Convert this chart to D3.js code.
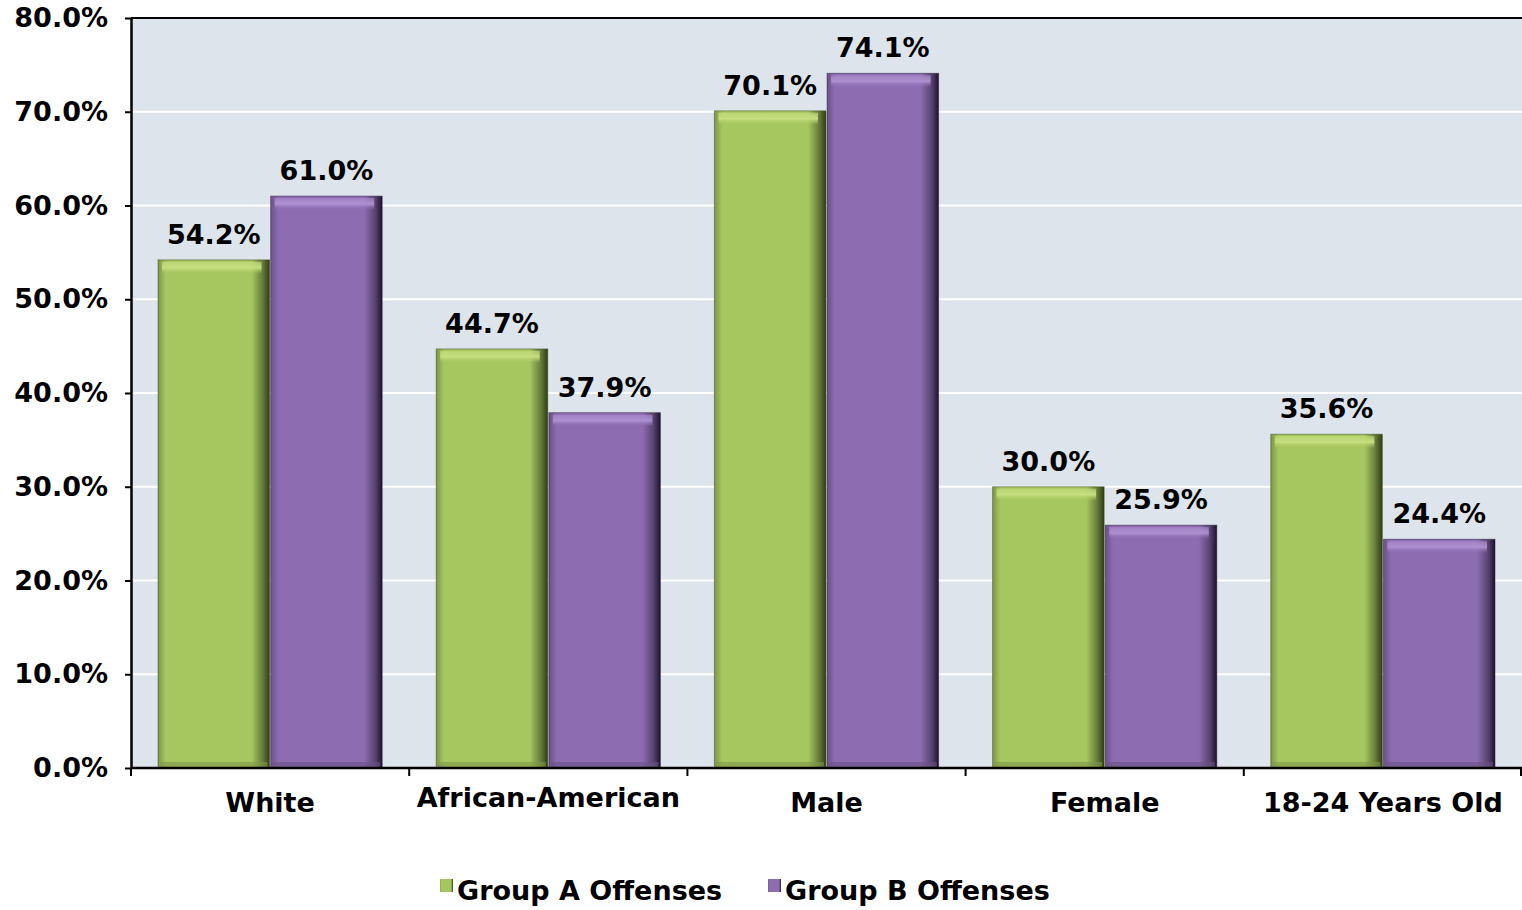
<!DOCTYPE html>
<html>
<head>
<meta charset="utf-8">
<script src="https://cdn.jsdelivr.net/npm/d3@7"></script>
<style>
    body { margin: 0; background: #ffffff; }
    svg text { font-family: "DejaVu Sans", sans-serif; font-weight: bold; fill: #000; }
</style>
</head>
<body>
<div id="chart"></div>
<script>
const categories = ["White", "African-American", "Male", "Female", "18-24 Years Old"];
const seriesNames = ["Group A Offenses", "Group B Offenses"];
const groupA = [54.2, 44.7, 70.1, 30.0, 35.6];
const groupB = [61.0, 37.9, 74.1, 25.9, 24.4];
const yTicks = [0, 10, 20, 30, 40, 50, 60, 70, 80];

const width = 1522, height = 910;
const margin = {top: 18, right: 0, bottom: 142, left: 131};
const innerWidth = width - margin.left - margin.right;
const innerHeight = height - margin.top - margin.bottom;

const colors = {
    "Group A Offenses": {base: "#a6c760", light: "#c6df80", dark: "#2f3d12"},
    "Group B Offenses": {base: "#8d6cb2", light: "#ae90d0", dark: "#1f1030"}
};

const data = categories.map((c, i) => ({
    category: c,
    values: [
        {series: seriesNames[0], value: groupA[i]},
        {series: seriesNames[1], value: groupB[i]}
    ]
}));

const svg = d3.select("#chart")
    .append("svg")
        .attr("width", width)
        .attr("height", height);

const defs = svg.append("defs");
seriesNames.forEach((s, i) => {
    const c = colors[s];
    const g = defs.append("linearGradient")
        .attr("id", `grad${i}`)
        .attr("x1", 0).attr("x2", 1).attr("y1", 0).attr("y2", 0);
    g.append("stop").attr("offset", "0%").attr("stop-color", d3.color(c.base).darker(0.8));
    g.append("stop").attr("offset", "7%").attr("stop-color", c.base);
    g.append("stop").attr("offset", "84%").attr("stop-color", c.base);
    g.append("stop").attr("offset", "94%").attr("stop-color", d3.color(c.base).darker(1.4));
    g.append("stop").attr("offset", "100%").attr("stop-color", c.dark);

    const t = defs.append("linearGradient")
        .attr("id", `top${i}`)
        .attr("x1", 0).attr("x2", 0).attr("y1", 0).attr("y2", 1);
    t.append("stop").attr("offset", "0%").attr("stop-color", c.light).attr("stop-opacity", 0.6);
    t.append("stop").attr("offset", "50%").attr("stop-color", c.light).attr("stop-opacity", 1);
    t.append("stop").attr("offset", "100%").attr("stop-color", c.base).attr("stop-opacity", 0);
});

const xScale = d3.scaleBand()
    .domain(categories)
    .range([0, innerWidth]);

const xSub = d3.scaleBand()
    .domain(seriesNames)
    .range([27, xScale.bandwidth() - 27])
    .paddingInner(0.01);

const yScale = d3.scaleLinear()
    .domain([0, 80])
    .range([innerHeight, 0]);

const innerChart = svg.append("g")
    .attr("transform", `translate(${margin.left}, ${margin.top})`);

// plot background
innerChart.append("rect")
    .attr("width", innerWidth)
    .attr("height", innerHeight)
    .attr("fill", "#dde4eb");

// gridlines
innerChart.selectAll(".grid")
    .data(yTicks.filter(d => d > 0 && d < 80))
    .join("line")
        .attr("class", "grid")
        .attr("x1", 0)
        .attr("x2", innerWidth)
        .attr("y1", d => yScale(d))
        .attr("y2", d => yScale(d))
        .attr("stroke", "#ffffff")
        .attr("stroke-width", 2);

innerChart.append("line")
    .attr("x1", 0).attr("x2", innerWidth)
    .attr("y1", 0).attr("y2", 0)
    .attr("stroke", "#000")
    .attr("stroke-width", 2);

// bars
const groups = innerChart.selectAll(".group")
    .data(data)
    .join("g")
        .attr("class", "group")
        .attr("transform", d => `translate(${xScale(d.category)}, 0)`);

const bars = groups.selectAll(".bar")
    .data(d => d.values)
    .join("g")
        .attr("class", "bar");

bars.append("rect")
    .attr("x", d => xSub(d.series))
    .attr("y", d => yScale(d.value))
    .attr("width", xSub.bandwidth())
    .attr("height", d => innerHeight - yScale(d.value))
    .attr("fill", d => `url(#grad${seriesNames.indexOf(d.series)})`)
    .attr("stroke", d => d3.color(colors[d.series].dark).copy({opacity: 0.45}))
    .attr("stroke-width", 1);

// top bevel
bars.append("rect")
    .attr("x", d => xSub(d.series) + 4)
    .attr("y", d => yScale(d.value) + 2)
    .attr("width", xSub.bandwidth() - 12)
    .attr("height", 12)
    .attr("fill", d => `url(#top${seriesNames.indexOf(d.series)})`);

// bottom shade
bars.append("rect")
    .attr("x", d => xSub(d.series) + 2)
    .attr("y", innerHeight - 6)
    .attr("width", xSub.bandwidth() - 4)
    .attr("height", 6)
    .attr("fill", d => d3.color(colors[d.series].base).darker(0.8))
    .attr("opacity", 0.6);

// value labels
bars.append("text")
    .attr("x", d => xSub(d.series) + xSub.bandwidth() / 2)
    .attr("y", d => yScale(d.value) - 16)
    .attr("text-anchor", "middle")
    .style("font-size", "27px")
    .text(d => d.value.toFixed(1) + "%");

// y axis
const yAxis = d3.axisLeft(yScale)
    .tickValues(yTicks)
    .tickFormat(d => d.toFixed(1) + "%")
    .tickSizeInner(6)
    .tickSizeOuter(0)
    .tickPadding(17);

const yAxisG = innerChart.append("g")
    .attr("class", "y-axis")
    .call(yAxis);
yAxisG.select(".domain").attr("stroke", "#000").attr("stroke-width", 2.5);
yAxisG.selectAll(".tick line").attr("stroke", "#000").attr("stroke-width", 2);
yAxisG.selectAll(".tick text")
    .style("font-size", "27px")
    .style("font-family", "'DejaVu Sans', sans-serif")
    .style("font-weight", "bold")
    .attr("fill", "#000");

// x axis
const xAxisG = innerChart.append("g")
    .attr("class", "x-axis")
    .attr("transform", `translate(0, ${innerHeight})`);

xAxisG.append("line")
    .attr("x1", 0).attr("x2", innerWidth)
    .attr("stroke", "#000")
    .attr("stroke-width", 2.5);

xAxisG.selectAll(".xtick")
    .data(categories.map(c => xScale(c)).concat([innerWidth - 1]))
    .join("line")
        .attr("class", "xtick")
        .attr("x1", d => d)
        .attr("x2", d => d)
        .attr("y1", 0)
        .attr("y2", 8)
        .attr("stroke", "#000")
        .attr("stroke-width", 2);

xAxisG.selectAll(".xlabel")
    .data(categories)
    .join("text")
        .attr("class", "xlabel")
        .attr("x", d => xScale(d) + xScale.bandwidth() / 2)
        .attr("y", d => d === "African-American" ? 39 : 44)
        .attr("text-anchor", "middle")
        .style("font-size", "27px")
        .text(d => d);

// legend
const legendItems = [
    {series: seriesNames[0], x: 440},
    {series: seriesNames[1], x: 768}
];
const legend = svg.append("g")
    .attr("class", "legend")
    .attr("transform", "translate(0, 900)");

const items = legend.selectAll(".legend-item")
    .data(legendItems)
    .join("g")
        .attr("class", "legend-item")
        .attr("transform", d => `translate(${d.x}, 0)`);

items.append("rect")
    .attr("x", 0)
    .attr("y", -21)
    .attr("width", 13)
    .attr("height", 13)
    .attr("fill", d => `url(#grad${seriesNames.indexOf(d.series)})`);

items.append("text")
    .attr("x", 17)
    .attr("y", 0)
    .style("font-size", "27px")
    .text(d => d.series);
</script>
</body>
</html>
